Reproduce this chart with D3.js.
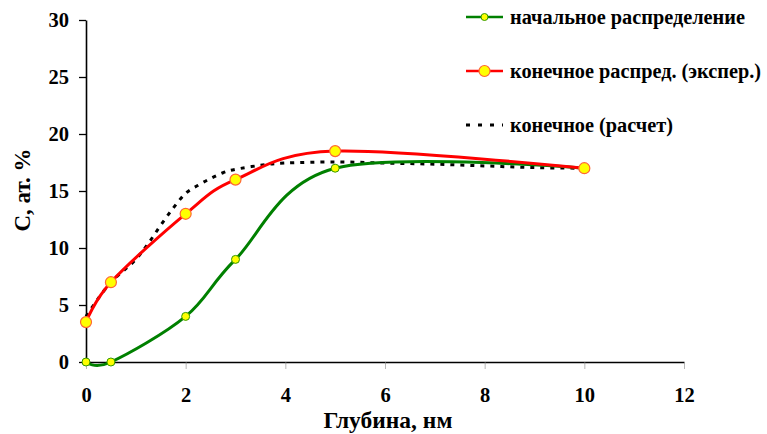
<!DOCTYPE html>
<html lang="en">
<head>
<meta charset="UTF-8">
<script src="https://d3js.org/d3.v7.min.js"></script>
<style>
  body { margin: 0; background: #fff; }
  text { font-family: "Liberation Serif", "Times New Roman", serif; font-weight: bold; }
</style>
</head>
<body>
<script>
// depth, nm
const initX = [0, 0.5, 2, 3, 5, 10];
const initY = [0, 0, 4, 9, 17, 17];
const expX = [0, 0.5, 2, 3, 5, 10];
const expY = [3.5, 7, 13, 16, 18.5, 17];
const calcX = [0, 0.25, 0.5, 0.75, 1, 1.25, 1.5, 1.75, 2, 2.25, 2.5, 2.75, 3, 3.5, 4, 5, 6, 7, 8, 9, 10];
const calcY = [4, 5.6, 7, 8, 9, 10.4, 12, 13.5, 14.8, 15.5, 16.1, 16.6, 16.9, 17.25, 17.45, 17.55, 17.45, 17.35, 17.2, 17.05, 17];
const xTicks = [0, 2, 4, 6, 8, 10, 12];
const yTicks = [0, 5, 10, 15, 20, 25, 30];
const legendLabels = ['начальное распределение', 'конечное распред. (экспер.)', 'конечное (расчет)'];

const width = 767, height = 434;
const svg = d3.select('body').append('svg')
    .attr('width', width)
    .attr('height', height);

const x = d3.scaleLinear().domain([0, 12]).range([86, 684]);
const y = d3.scaleLinear().domain([0, 30]).range([362, 20]);

// axes
const xAxis = svg.append('g')
    .attr('transform', `translate(0,${y(0)})`)
    .call(d3.axisBottom(x).tickValues(xTicks).tickSize(7).tickPadding(18).tickSizeOuter(0));
const yAxis = svg.append('g')
    .attr('transform', `translate(${x(0)},0)`)
    .call(d3.axisLeft(y).tickValues(yTicks).tickSize(7).tickPadding(10).tickSizeOuter(0));

[xAxis, yAxis].forEach(g => {
    g.select('.domain').attr('stroke', '#000').attr('stroke-width', 1.6);
    g.selectAll('.tick line').attr('stroke', '#000').attr('stroke-width', 1.3);
    g.selectAll('.tick text')
        .attr('fill', '#000')
        .style('font-size', '20.5px')
        .style('font-family', '"Liberation Serif", serif')
        .style('font-weight', 'bold');
});
xAxis.selectAll('.tick line').attr('stroke-width', 0.6).attr('stroke', '#888');

svg.append('text')
    .attr('x', 388).attr('y', 428)
    .attr('text-anchor', 'middle')
    .style('font-size', '23.5px')
    .text('Глубина, нм');

svg.append('text')
    .attr('transform', 'translate(30,190) rotate(-90)')
    .attr('text-anchor', 'middle')
    .style('font-size', '23px')
    .text('С, ат. %');

const line = d3.line()
    .x(d => x(d[0]))
    .y(d => y(d[1]))
    .curve(d3.curveCardinal.tension(0));

const calc = calcX.map((v, i) => [v, calcY[i]]);
const init = initX.map((v, i) => [v, initY[i]]);
const exp = expX.map((v, i) => [v, expY[i]]);

svg.append('path')
    .datum(calc)
    .attr('d', line)
    .attr('fill', 'none')
    .attr('stroke', '#000')
    .attr('stroke-width', 3)
    .attr('stroke-dasharray', '4,6');

svg.append('path')
    .datum(init)
    .attr('d', line)
    .attr('fill', 'none')
    .attr('stroke', '#008000')
    .attr('stroke-width', 3);

svg.append('path')
    .datum(exp)
    .attr('d', line)
    .attr('fill', 'none')
    .attr('stroke', '#ff0000')
    .attr('stroke-width', 3);

svg.append('g').selectAll('circle')
    .data(init)
    .enter().append('circle')
    .attr('cx', d => x(d[0]))
    .attr('cy', d => y(d[1]))
    .attr('r', 4)
    .attr('fill', '#ffff00')
    .attr('stroke', '#339900')
    .attr('stroke-width', 1);

svg.append('g').selectAll('circle')
    .data(exp)
    .enter().append('circle')
    .attr('cx', d => x(d[0]))
    .attr('cy', d => y(d[1]))
    .attr('r', 5.5)
    .attr('fill', '#ffff00')
    .attr('stroke', '#ff6633')
    .attr('stroke-width', 1.2);

// legend
const legend = svg.append('g');
const legY = [17, 71, 125];

legend.append('line')
    .attr('x1', 466).attr('x2', 503).attr('y1', legY[0]).attr('y2', legY[0])
    .attr('stroke', '#008000').attr('stroke-width', 2.5);
legend.append('circle')
    .attr('cx', 484.5).attr('cy', legY[0]).attr('r', 3.5)
    .attr('fill', '#ffff00').attr('stroke', '#339900').attr('stroke-width', 1);

legend.append('line')
    .attr('x1', 466).attr('x2', 503).attr('y1', legY[1]).attr('y2', legY[1])
    .attr('stroke', '#ff0000').attr('stroke-width', 2.5);
legend.append('circle')
    .attr('cx', 484.5).attr('cy', legY[1]).attr('r', 5.5)
    .attr('fill', '#ffff00').attr('stroke', '#ff6633').attr('stroke-width', 1.2);

legend.append('line')
    .attr('x1', 466).attr('x2', 503).attr('y1', legY[2]).attr('y2', legY[2])
    .attr('stroke', '#000').attr('stroke-width', 3)
    .attr('stroke-dasharray', '4,8');

legend.selectAll('text.lbl')
    .data(legendLabels)
    .enter().append('text')
    .attr('class', 'lbl')
    .attr('x', 510)
    .attr('y', (d, i) => legY[i] + 7)
    .style('font-size', '20.3px')
    .attr('fill', '#000')
    .text(d => d);
</script>
</body>
</html>
